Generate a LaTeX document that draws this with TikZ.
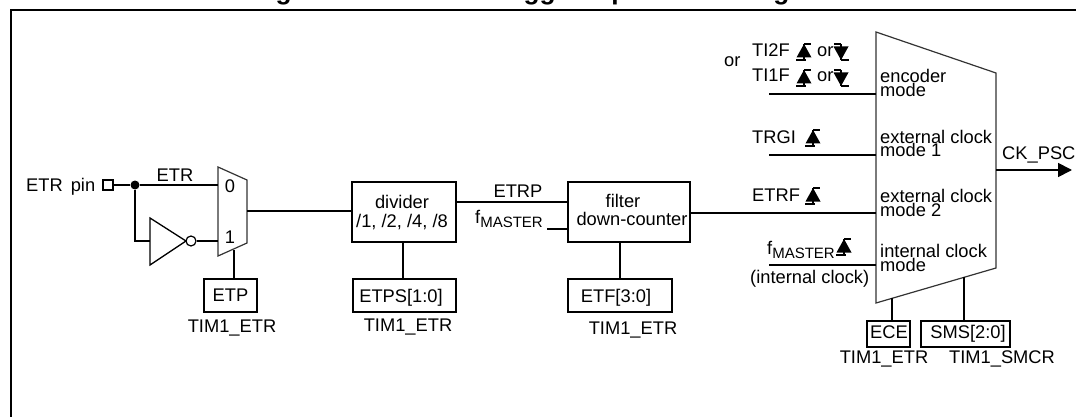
\documentclass[tikz,border=0pt]{standalone}
\usepackage{fontspec}
\setmainfont{Liberation Sans}
\usetikzlibrary{arrows.meta}
\newcommand\fmaster{f\raisebox{-4pt}{\fontsize{15}{15}\selectfont MASTER}}
\tikzset{
  x=1pt,y=-1pt,
  wire/.style={line width=1.7pt},
  thin edge/.style={line width=1.2pt,draw=black!80},
  regbox/.style={draw,line width=1.7pt,inner sep=0pt,font=\fontsize{18.3}{20}\selectfont},
  lbl/.style={inner sep=0pt,anchor=base,font=\fontsize{18.3}{20}\selectfont},
  lblw/.style={lbl,anchor=base west},
  riseedge/.pic={
    \fill (-7.5,5.5) -- (0,-8) -- (7.5,5.5) -- cycle;
    \draw[line width=1.4pt] (-8,8) -- (2,8) (0,-8) -- (7,-8);
    \draw[line width=1.4pt] (0,-8) -- (0,8);
  },
  falledge/.pic={
    \fill (-7.5,-5.5) -- (0,8) -- (7.5,-5.5) -- cycle;
    \draw[line width=1.4pt] (-7,-8) -- (0,-8) (0,8) -- (8,8);
    \draw[line width=1.4pt] (0,-8) -- (0,8);
  }
}
\begin{document}
\begin{tikzpicture}
\useasboundingbox (0,0) rectangle (1076,417);
\clip (0,0) rectangle (1076,417);
% title and frame
\node[inner sep=0pt,anchor=base,font=\fontsize{26.3}{28}\selectfont\bfseries] (title) at (545,0) {Figure 41. External trigger input block diagram};
\coordinate (frameBL) at (11,417);
\coordinate (frameTL) at (11,10);
\coordinate (frameTR) at (1076,10);
\draw[line width=2pt] (frameBL) -- (frameTL) -- (frameTR);
% pin
\node[lblw] (etrpinlabel) at (26,191) {ETR\hspace{8pt}pin};
\node[draw,line width=1.7pt,minimum width=10pt,minimum height=10pt,inner sep=0pt] (pin) at (108,185) {};
\node[circle,fill=black,minimum size=9pt,inner sep=0pt] (dot) at (135,185) {};
% small mux
\coordinate (mA) at (218,167);
\coordinate (mB) at (247,180);
\coordinate (mC) at (247,243);
\coordinate (mD) at (218,256);
\draw[thin edge] (mA) -- (mB) -- (mC) -- (mD) -- cycle;
\coordinate (m0) at (218,185);
\coordinate (m1) at (218,241);
\coordinate (mout) at (247,211);
\coordinate (mctl) at (234,250);
\node[lbl] (zero) at (230,192) {0};
\node[lbl] (one) at (230,243) {1};
\node[lbl] (etrlabel) at (175,181) {ETR};
% inverter
\coordinate (iA) at (150,218);
\coordinate (iB) at (150,265);
\coordinate (iC) at (186,241);
\coordinate (iin) at (150,241);
\draw[line width=1.3pt] (iA) -- (iC) -- (iB) -- cycle;
\node[circle,draw,line width=1.2pt,minimum size=10pt,inner sep=0pt] (bubble) at (191,241) {};
% regs
\node[regbox,minimum width=53pt,minimum height=33pt] (etp) at (230.5,295.5) {ETP};
\node[lbl] at (232,332) {TIM1\_ETR};
\node[regbox,minimum width=104pt,minimum height=60pt,align=center] (divider) at (404,212) {};
\node[lbl] at (402,208) {divider};
\node[lbl] at (402,227) {/1, /2, /4, /8};
\node[regbox,minimum width=103pt,minimum height=33pt] (etps) at (404.5,295.5) {};
\node[lbl] at (401,302) {ETPS[1:0]};
\node[lbl] at (408,331) {TIM1\_ETR};
\node[regbox,minimum width=122pt,minimum height=60pt] (filter) at (629,212) {};
\node[lbl] at (623,207) {filter};
\node[lbl] at (632,225) {down-counter};
\node[regbox,minimum width=104pt,minimum height=33pt] (etf) at (620,295.5) {};
\node[lbl] at (616,302) {ETF[3:0]};
\node[lbl] at (633,334) {TIM1\_ETR};
\node[lbl] at (518,197) {ETRP};
\node[lbl] at (509,223) {\fmaster};
\coordinate (fmfree) at (547,229);
\coordinate (fmend) at (568,229);
\coordinate (etrpa) at (456,202);
\coordinate (etrpb) at (568,202);
\coordinate (mdiv) at (352,211);
% big mux
\coordinate (bA) at (876,32);
\coordinate (bB) at (996,73);
\coordinate (bC) at (996,268);
\coordinate (bD) at (876,303);
\draw[thin edge] (bA) -- (bB) -- (bC) -- (bD) -- cycle;
\coordinate (in1) at (876,94);   \coordinate (free1) at (769,94);
\coordinate (in2) at (876,155);  \coordinate (free2) at (769,155);
\coordinate (in3) at (876,213);  \coordinate (f3) at (690,213);
\coordinate (in4) at (876,265);  \coordinate (free4) at (769,265);
\coordinate (bout) at (996,170); \coordinate (ckend) at (1072,170);
\node[lblw] at (880,83) {encoder};
\node[lblw] at (880,97) {mode};
\node[lblw] at (880,143) {external clock};
\node[lblw] at (880,157) {mode 1};
\node[lblw] at (880,202) {external clock};
\node[lblw] at (880,216) {mode 2};
\node[lblw] at (880,257) {internal clock};
\node[lblw] at (880,271) {mode};
\node[lblw] at (1002,160) {CK\_PSC};
% input labels
\node[lblw] at (724,67) {or};
\node[lblw] at (752,57) {TI2F};
\node[lblw] at (752,82) {TI1F};
\node[lblw] at (817,57) {or};
\node[lblw] at (817,82) {or};
\pic at (804,52) {riseedge};
\pic at (841,52) {falledge};
\pic at (804,78) {riseedge};
\pic at (841,78) {falledge};
\node[lblw] at (752,144) {TRGI};
\pic at (813,138) {riseedge};
\node[lblw] at (752,201) {ETRF};
\pic at (813,196) {riseedge};
\node[lblw] at (767,254) {\fmaster};
\pic at (844,247) {riseedge};
\node[lblw] at (750,283) {(internal clock)};
% bottom regs
\node[regbox,minimum width=43pt,minimum height=26pt] (ece) at (888.5,334) {};
\node[lbl] at (889,338) {ECE};
\node[regbox,minimum width=89pt,minimum height=26pt] (sms) at (965.5,334) {};
\node[lbl] at (968,338) {SMS[2:0]};
\node[lbl] at (884,363) {TIM1\_ETR};
\node[lbl] at (1002,363) {TIM1\_SMCR};
\coordinate (bctl1) at (892,298);
\coordinate (bctl2) at (964,277);
% connectors
\begin{scope}[wire]
\draw (pin) -- (dot);
\draw (dot) -- (m0);
\draw (dot) |- (iin);
\draw (bubble) -- (m1);
\draw (mout) -- (mdiv);
\draw (mctl) -- (mctl |- etp.north);
\draw (divider.south -| 403,0) -- (etps.north -| 403,0);
\draw (etrpa) -- (etrpb);
\draw (fmfree) -- (fmend);
\draw (filter.south -| 620,0) -- (etf.north -| 620,0);
\draw (f3) -- (in3);
\draw (free1) -- (in1);
\draw (free2) -- (in2);
\draw (free4) -- (in4);
\draw (bctl1) -- (bctl1 |- ece.north);
\draw (bctl2) -- (bctl2 |- sms.north);
\draw[-{Triangle[length=14pt,width=14pt]}] (bout) -- (ckend);
\end{scope}
\end{tikzpicture}
\end{document}
